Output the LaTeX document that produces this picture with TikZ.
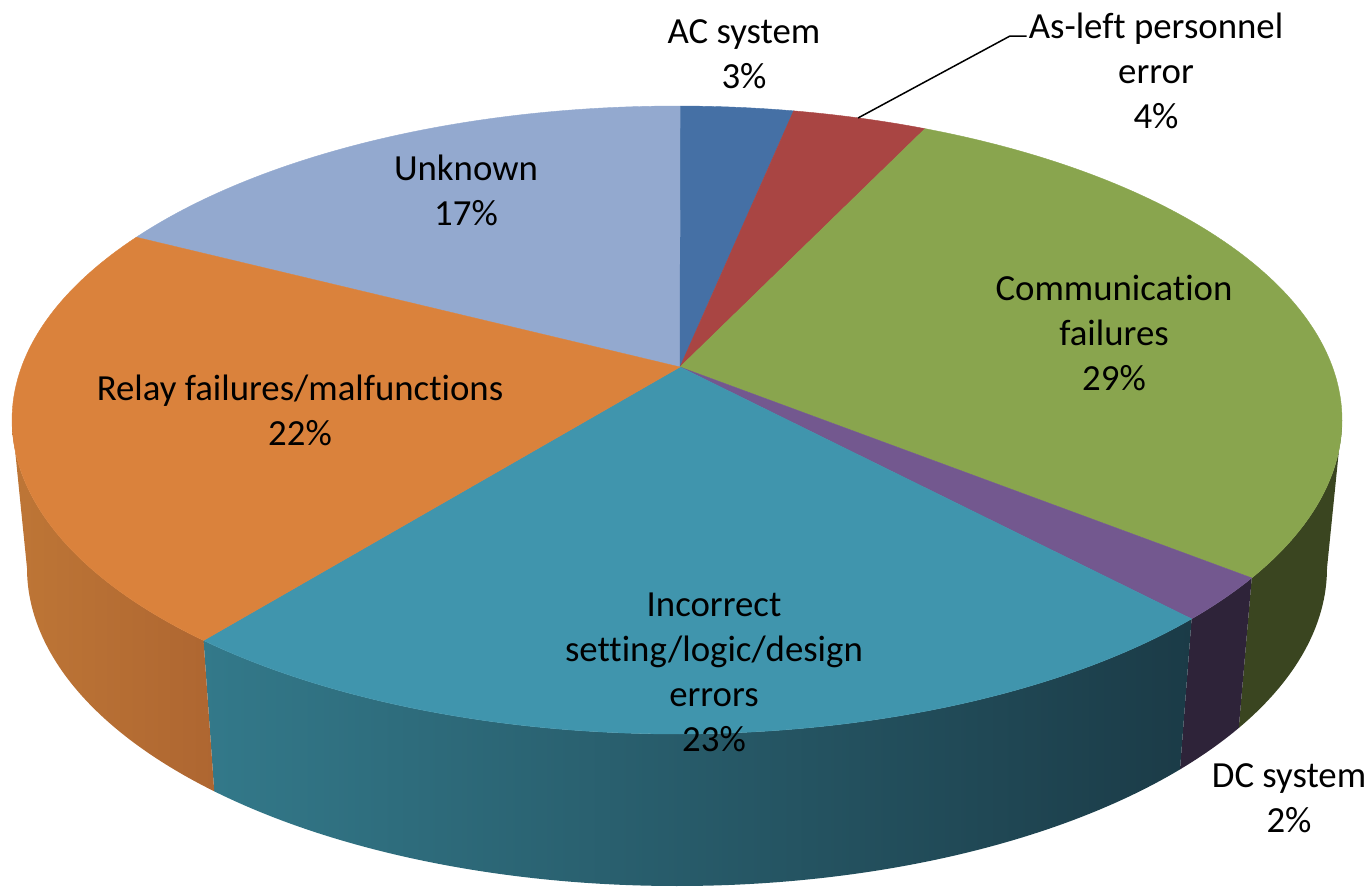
\documentclass[tikz,border=0pt]{standalone}
\usepackage{fontspec}
\setmainfont{Carlito}[Ligatures={NoCommon,NoContextual}]
\usetikzlibrary{calc}
\definecolor{cUnk}{HTML}{93A9CF}
\definecolor{cAC}{HTML}{4570A5}
\definecolor{cAsl}{HTML}{A94543}
\definecolor{cCom}{HTML}{89A54E}
\definecolor{cDC}{HTML}{73588F}
\definecolor{cInc}{HTML}{4095AD}
\definecolor{cRel}{HTML}{DA823C}
\definecolor{sRelL}{HTML}{BE7636}
\definecolor{sRelR}{HTML}{AE6631}
\definecolor{sIncL}{HTML}{33798A}
\definecolor{sIncM}{HTML}{285B6B}
\definecolor{sIncR}{HTML}{1B3B47}
\definecolor{sDC}{HTML}{2E2339}
\definecolor{sCom}{HTML}{3A4520}
\begin{document}
\begin{tikzpicture}[x=1pt,y=-1pt,
  lbl/.style={align=center,anchor=base,inner sep=2pt,font=\fontsize{36.8}{45}\selectfont},
  topface/.style={fill=#1,draw=#1,line width=0.4pt}]
\useasboundingbox (0,0) rectangle (1372,886);
\coordinate (T) at (677,420);
\coordinate (B) at (677,568);
\coordinate (A) at (680,367);
\def\side#1#2{($(T)+(#1:665 and 314)$) arc[start angle=#1,end angle=#2,x radius=665,y radius=314]
  -- ($(B)+(#2:650 and 318)$) arc[start angle=#2,end angle=#1,x radius=650,y radius=318] -- cycle}
\def\wedge#1#2{(A) -- ($(T)+(#1:665 and 314)$) arc[start angle=#1,end angle=#2,x radius=665,y radius=314] -- cycle}
% sides
\fill[sCom] \side{0}{30.2};
\fill[sDC] \side{30.2}{39.3};
\shade[left color=sIncL,middle color=sIncM,right color=sIncR] \side{39.3}{135.4};
\shade[left color=sRelL,right color=sRelR] \side{135.4}{180};
% top faces
\path[topface=cUnk] \wedge{215.6}{270.3};
\path[topface=cAC] \wedge{270.3}{280.1};
\path[topface=cAsl] \wedge{280.1}{291.9};
\path[topface=cCom] \wedge{291.9}{390.2};
\path[topface=cDC] \wedge{30.2}{39.3};
\path[topface=cInc] \wedge{39.3}{135.4};
\path[topface=cRel] \wedge{135.4}{215.6};
% labels (anchor = baseline of last line)
\node[lbl] (ac) at (744,88) {AC system\\3\%};
\node[lbl] (asl) at (1156,128) {As-left personnel\\error\\4\%};
\node[lbl] (unk) at (466,225) {Unknown\\17\%};
\node[lbl] (com) at (1114,390) {Communication\\failures\\29\%};
\node[lbl] (rel) at (300,445) {Relay failures/malfunctions\\22\%};
\node[lbl] (inc) at (714,751) {Incorrect\\setting/logic/design\\errors\\23\%};
\node[lbl] (dc) at (1289,832) {DC system\\2\%};
% leader
\coordinate (aslpt) at (858,118);
\coordinate (aslknee) at (1010,36);
\draw[line width=1.5pt] (aslpt) -- (aslknee) -- (aslknee -| asl.west);
\end{tikzpicture}
\end{document}
